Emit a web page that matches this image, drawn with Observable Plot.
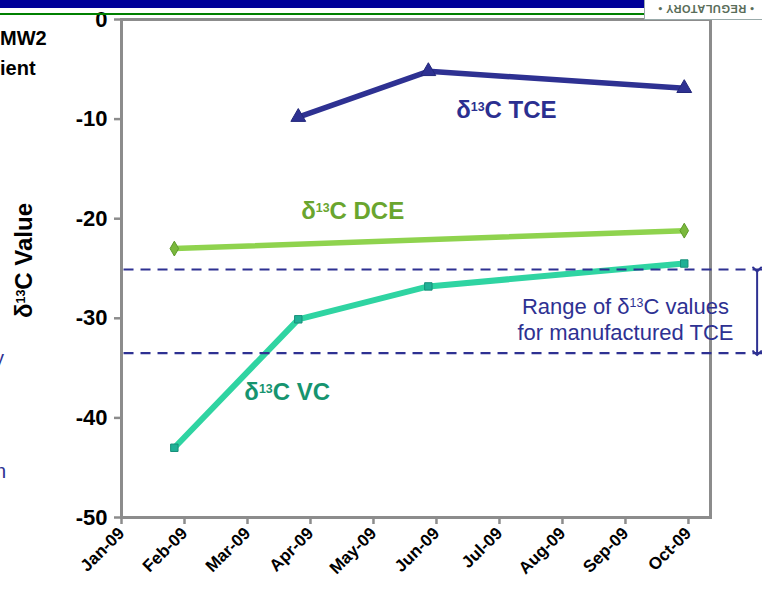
<!DOCTYPE html>
<html><head><meta charset="utf-8">
<script src="https://cdn.jsdelivr.net/npm/d3@7"></script>
<script src="https://cdn.jsdelivr.net/npm/@observablehq/plot@0.6"></script>
<style>
body{margin:0;background:#fff;font-family:"Liberation Sans",Arial,sans-serif;}
#wrap{position:relative;width:762px;height:595px;overflow:hidden;background:#fff;}
#wrap svg{position:absolute;left:0;top:0;}
.bar{position:absolute;left:0;width:645px;}
#badge{position:absolute;left:644px;top:-3px;width:124px;height:23px;border:1px solid #9aa;background:#fff;box-sizing:border-box;
  font:bold 11px "Liberation Sans",Arial,sans-serif;color:#5a6e5a;text-align:center;line-height:21px;transform:rotate(180deg);letter-spacing:0.5px;}
.frag{position:absolute;font-family:"Liberation Sans",Arial,sans-serif;}
</style></head><body>
<div id="wrap">
  <div class="bar" style="top:0;height:8px;background:#000099;"></div>
  <div class="bar" style="top:13px;height:2px;background:#008000;"></div>
  <div id="badge">• REGULATORY •</div>
  <div class="frag" style="left:0;top:27px;font-weight:bold;font-size:20px;">MW2</div>
  <div class="frag" style="left:0;top:57px;font-weight:bold;font-size:20px;">ient</div>
  <div class="frag" style="left:-6px;top:347px;font-size:20px;color:#2e3192;">y</div>
  <div class="frag" style="left:-5px;top:460px;font-size:20px;color:#2e3192;">n</div>
</div>
<script>
const monthLabels = ["Jan-09","Feb-09","Mar-09","Apr-09","May-09","Jun-09","Jul-09","Aug-09","Sep-09","Oct-09"];
const yTicks = [0,-10,-20,-30,-40,-50];
const tceDates = ["2009-03-26","2009-05-28","2009-09-29"];
const tceValues = [-9.8,-5.2,-6.9];
const dceDates = ["2009-01-27","2009-09-29"];
const dceValues = [-23.0,-21.2];
const vcDates = ["2009-01-27","2009-03-26","2009-05-28","2009-09-29"];
const vcValues = [-43.0,-30.1,-26.8,-24.5];
const rangeValues = [-25.1,-33.5];

// fractional month position (Jan-09 = 0)
function monthPos(s){
  const d = new Date(s + "T00:00:00Z");
  const m = (d.getUTCFullYear() - 2009) * 12 + d.getUTCMonth();
  const dim = new Date(Date.UTC(d.getUTCFullYear(), d.getUTCMonth() + 1, 0)).getUTCDate();
  return m + (d.getUTCDate() - 1) / dim;
}
const mk = (dates, vals) => dates.map((d, i) => ({x: monthPos(d), y: vals[i]}));
const tce = mk(tceDates, tceValues);
const dce = mk(dceDates, dceValues);
const vc = mk(vcDates, vcValues);

const seriesLabels = [
  {x: 6.11, y: -9.1, text: "δ¹³C TCE", color: "#2b2f90"},
  {x: 3.67, y: -19.3, text: "δ¹³C DCE", color: "#6aa52e"},
  {x: 2.63, y: -37.4, text: "δ¹³C VC", color: "#16946f"}
];
const rangeText = [
  {x: 8.0, y: -28.9, text: "Range of δ¹³C values"},
  {x: 8.0, y: -31.5, text: "for manufactured TCE"}
];

const font = "Liberation Sans, Arial, sans-serif";
const chart = Plot.plot({
  width: 762, height: 595,
  marginLeft: 121, marginRight: 52, marginTop: 19, marginBottom: 78,
  style: {fontFamily: font, background: "transparent", overflow: "visible"},
  x: {domain: [0, 9.35], axis: null},
  y: {domain: [-50, 0], axis: null},
  marks: [
    Plot.frame({stroke: "#8c8c8c", strokeWidth: 3}),
    Plot.axisX({ticks: d3.range(monthLabels.length), tickFormat: i => monthLabels[i], tickRotate: -45, label: null,
      tickSize: 7, tickPadding: 6, stroke: "#8c8c8c", strokeWidth: 2.5, fill: "#000",
      fontSize: 17, fontWeight: "bold"}),
    Plot.axisY({ticks: yTicks, tickFormat: d => String(d), tickSize: 7, tickPadding: 7, label: null,
      stroke: "#8c8c8c", strokeWidth: 2.5, fill: "#000", fontSize: 22, fontWeight: "bold"}),
    Plot.text(["δ¹³C Value"], {frameAnchor: "left", rotate: -90, dx: -97, dy: -8, textAnchor: "middle",
      fontSize: 24, fontWeight: "bold", fill: "#000"}),
    Plot.line(tce, {x: "x", y: "y", stroke: "#2e3192", strokeWidth: 5.5}),
    Plot.line(dce, {x: "x", y: "y", stroke: "#8fd34e", strokeWidth: 5.5}),
    Plot.line(vc, {x: "x", y: "y", stroke: "#2fd4a2", strokeWidth: 6}),
    Plot.dot(tce, {x: "x", y: "y", symbol: "triangle", r: 5.5, fill: "#2e3192", stroke: "#23277a", strokeWidth: 1}),
    Plot.dot(dce, {x: "x", y: "y", symbol: "diamond", r: 4.5, fill: "#7ab83c", stroke: "#5e9a2a", strokeWidth: 1}),
    Plot.dot(vc, {x: "x", y: "y", symbol: "square", r: 4.2, fill: "#1fb096", stroke: "#18907a", strokeWidth: 1}),
    Plot.ruleY(rangeValues, {y: d => d, x1: () => 0.04, x2: () => 10.2, stroke: "#2e3192", strokeWidth: 2.2, strokeDasharray: "10,7"}),
    Plot.link([{y1: rangeValues[0], y2: rangeValues[1]}], {x1: () => 10.09, x2: () => 10.09, y1: "y1", y2: "y2",
      stroke: "#2e3192", strokeWidth: 2, markerStart: "arrow", markerEnd: "arrow"}),
    Plot.text(seriesLabels, {x: "x", y: "y", text: "text", fill: d => d.color, fontSize: 24, fontWeight: "bold"}),
    Plot.text(rangeText, {x: "x", y: "y", text: "text", fill: "#2e3192", fontSize: 22})
  ]
});

// render "¹³" as a real superscript "13"
chart.querySelectorAll("text, tspan").forEach(el => {
  if (el.children.length || !el.textContent.includes("¹³")) return;
  const fs = parseFloat(getComputedStyle(el).fontSize) || 20;
  const [before, after] = el.textContent.split("¹³");
  const ns = "http://www.w3.org/2000/svg";
  el.textContent = "";
  el.appendChild(document.createTextNode(before));
  const sup = document.createElementNS(ns, "tspan");
  sup.setAttribute("font-size", (fs * 0.62).toFixed(1));
  sup.setAttribute("baseline-shift", (fs * 0.34).toFixed(1));
  sup.textContent = "13";
  el.appendChild(sup);
  el.appendChild(document.createTextNode(after));
});
document.getElementById("wrap").insertBefore(chart, document.getElementById("wrap").firstChild);
</script>
</body></html>
